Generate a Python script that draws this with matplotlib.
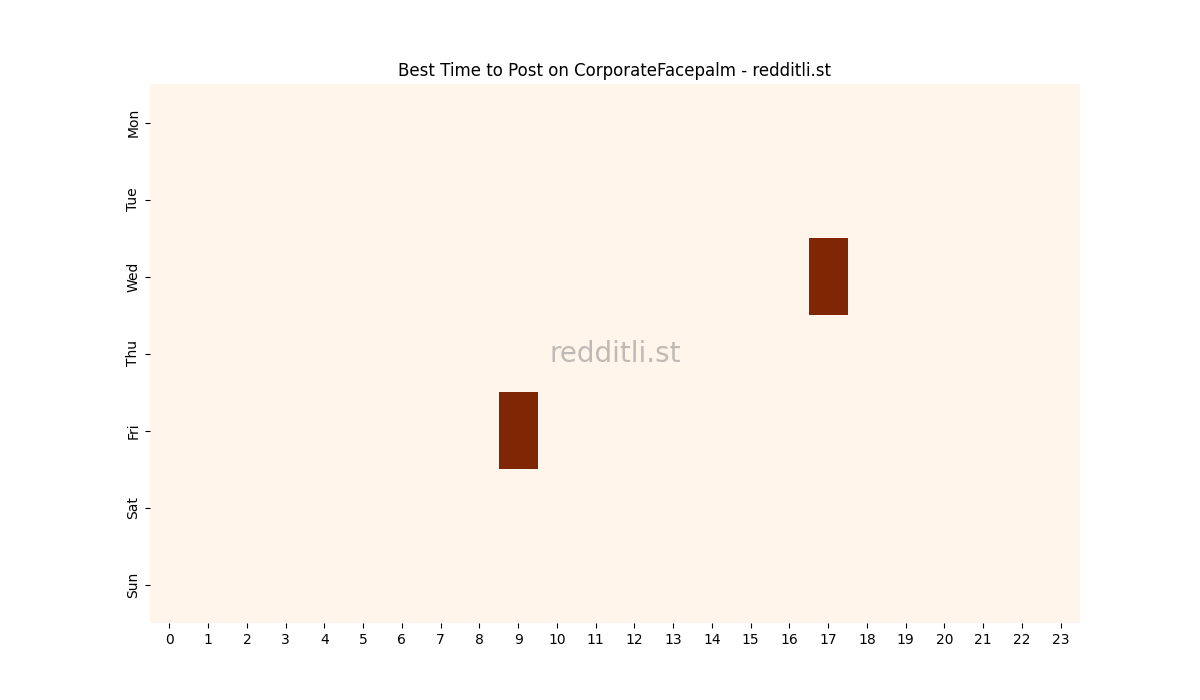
import matplotlib
matplotlib.use('Agg')
import matplotlib.pyplot as plt
import numpy as np
import seaborn as sns

days = ['Mon', 'Tue', 'Wed', 'Thu', 'Fri', 'Sat', 'Sun']
hours = list(range(24))

# post counts per (day, hour); only two non-zero cells
wed_counts = [0] * 24
wed_counts[17] = 1
fri_counts = [0] * 24
fri_counts[9] = 1
zero_row = [0] * 24

grid = np.array([zero_row, zero_row, wed_counts, zero_row, fri_counts, zero_row, zero_row])

fig, ax = plt.subplots(figsize=(12, 7), dpi=100)
sns.heatmap(grid, cmap='Oranges', cbar=False, xticklabels=hours, yticklabels=days, ax=ax)
ax.set_title('Best Time to Post on CorporateFacepalm - redditli.st')
ax.tick_params(axis='x', rotation=0)
ax.tick_params(axis='y', rotation=90)
ax.text(0.5, 0.5, 'redditli.st', transform=ax.transAxes, fontsize=20,
        color='grey', alpha=0.5, ha='center', va='center')

plt.savefig('out.png')
